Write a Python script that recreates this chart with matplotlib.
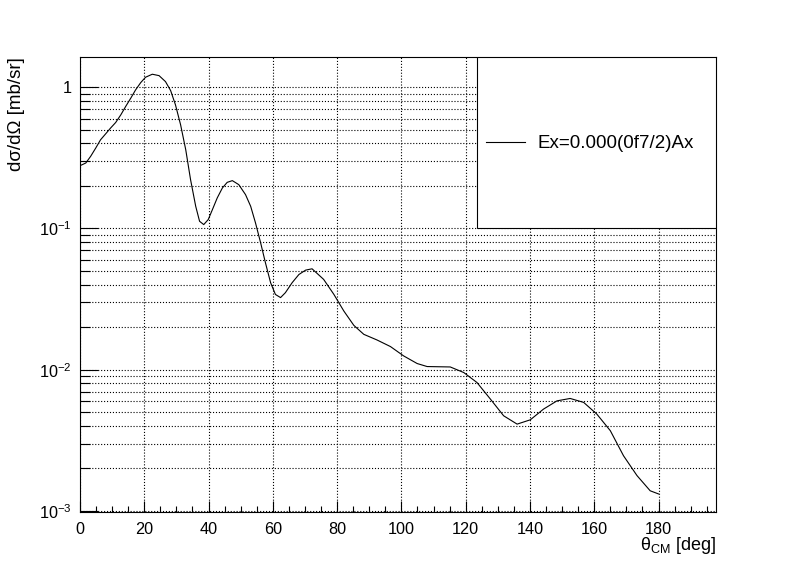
import numpy as np
import matplotlib
matplotlib.use('Agg')
import matplotlib.pyplot as plt
from matplotlib.ticker import LogLocator, MultipleLocator, FuncFormatter, NullFormatter
from matplotlib.patches import Rectangle

plt.rcParams['font.family'] = ['Liberation Sans', 'DejaVu Sans']
plt.rcParams['mathtext.default'] = 'regular'

# angular distribution
theta = [0, 1.8, 3.3, 4.9, 6.4, 8.0, 9.5, 11.1, 12.7, 14.2, 15.8, 17.3, 18.9,
         20.4, 22.5, 24.6, 26.6, 28.2, 29.7, 31.3, 32.9, 34.4, 36.0, 37.2, 38.5,
         39.9, 41.2, 42.7, 44.3, 45.8, 47.4, 49.4, 51.5, 53.1, 54.6, 56.2, 57.7,
         59.3, 60.8, 62.4, 63.9, 66.0, 68.1, 70.2, 72.2, 75.8, 79.0, 82.1, 85.2,
         88.3, 92.4, 96.6, 100.7, 104.9, 108.0, 115.2, 119.4, 123.5, 127.7,
         131.8, 136.0, 140.1, 144.2, 148.4, 152.5, 156.7, 160.8, 165.0, 169.1,
         173.3, 177.4, 180.0]
xsec = [0.278, 0.2905, 0.3236, 0.3709, 0.4244, 0.4679, 0.5133, 0.5623, 0.6373,
        0.7295, 0.8363, 0.957, 1.078, 1.176, 1.235, 1.207, 1.095, 0.946, 0.750,
        0.5418, 0.3607, 0.2214, 0.1435, 0.1124, 0.1065, 0.1156, 0.1360, 0.1645,
        0.1935, 0.2120, 0.2180, 0.2042, 0.1735, 0.1435, 0.1095, 0.0791, 0.0571,
        0.0413, 0.0341, 0.0324, 0.0351, 0.0413, 0.0472, 0.0507, 0.0518, 0.0436,
        0.0341, 0.0260, 0.0206, 0.0178, 0.01624, 0.01458, 0.01252, 0.01106,
        0.01053, 0.01046, 0.00955, 0.00812, 0.00619, 0.00472, 0.00412, 0.00442,
        0.00526, 0.00602, 0.00626, 0.00587, 0.00485, 0.00370, 0.00246, 0.00178,
        0.00139, 0.00132]
label = 'Ex=0.000(0f7/2)Ax'

fig = plt.figure(figsize=(7.96, 5.72), dpi=100)
ax = fig.add_axes([0.1005, 0.1045, 0.7995, 0.7955])

ax.plot(theta, xsec, color='k', lw=0.8, label=label)
ax.set_yscale('log')
ax.set_xlim(0, 198)
ax.set_ylim(0.00098, 1.63)

ax.xaxis.set_major_locator(MultipleLocator(20))
ax.xaxis.set_minor_locator(MultipleLocator(5))
ax.yaxis.set_major_locator(LogLocator(base=10))
ax.yaxis.set_minor_locator(LogLocator(base=10, subs=range(2, 10)))
ax.yaxis.set_minor_formatter(NullFormatter())
ax.yaxis.set_major_formatter(FuncFormatter(
    lambda v, p: '1' if abs(v - 1) < 1e-9 else r'$10^{%d}$' % round(np.log10(v))))

ax.tick_params(axis='x', which='major', direction='in', length=7.7, width=0.8,
               labelsize=11.7, pad=6.7)
ax.tick_params(axis='x', which='minor', direction='in', length=4, width=0.8)
ax.tick_params(axis='y', which='major', direction='in', length=13, width=0.8,
               labelsize=11.7, pad=6)
ax.tick_params(axis='y', which='minor', direction='in', length=7.2, width=0.8)

ax.grid(True, axis='y', which='both', ls=':', color='k', lw=0.8)
ax.grid(True, axis='x', which='major', ls=':', color='k', lw=0.8)
for s in ax.spines.values():
    s.set_linewidth(0.8)

ax.set_xlabel(r'θ$_{CM}$ [deg]', fontsize=13)
ax.xaxis.set_label_coords(1.0, -0.05)
ax.xaxis.label.set_horizontalalignment('right')
ax.set_ylabel('dσ/dΩ [mb/sr]', fontsize=13.5)
ax.yaxis.set_label_coords(-0.1, 1.0)
ax.yaxis.label.set_verticalalignment('center')
ax.yaxis.label.set_horizontalalignment('right')

box = Rectangle((0.624, 0.6255), 0.376, 0.3745, transform=ax.transAxes,
                facecolor='white', edgecolor='k', lw=0.8, zorder=3)
ax.add_patch(box)
leg = ax.legend(loc='center left', bbox_to_anchor=(0.611, 0.81), frameon=False,
                fontsize=13.5, handlelength=2.1, handletextpad=0.65)
leg.set_zorder(4)

fig.savefig('out.png', dpi=100)
